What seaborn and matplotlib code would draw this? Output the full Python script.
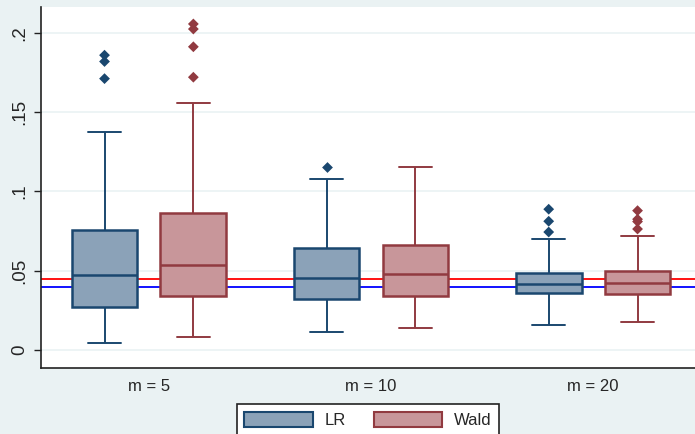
import numpy as np
import pandas as pd
import seaborn as sns
import matplotlib
matplotlib.use("Agg")
import matplotlib.pyplot as plt
from matplotlib.patches import Patch

# ---- data ----
categories = ["m = 5", "m = 10", "m = 20"]
tests = ["LR", "Wald"]

lr_low = [0.0045, 0.0112, 0.0160]
lr_q1 = [0.0272, 0.0320, 0.0358]
lr_med = [0.0472, 0.0454, 0.0416]
lr_q3 = [0.0757, 0.0642, 0.0488]
lr_high = [0.1374, 0.1079, 0.0700]
lr_out = [[0.1860, 0.1820, 0.1712], [0.1152], [0.0888, 0.0812, 0.0744]]

wald_low = [0.0084, 0.0139, 0.0177]
wald_q1 = [0.0341, 0.0343, 0.0354]
wald_med = [0.0537, 0.0482, 0.0425]
wald_q3 = [0.0862, 0.0660, 0.0500]
wald_high = [0.1556, 0.1157, 0.0719]
wald_out = [[0.2057, 0.2025, 0.1913, 0.1721], [], [0.0879, 0.0825, 0.0810, 0.0763]]

ref_red = 0.045
ref_blue = 0.040

ytick_vals = [0, 0.05, 0.1, 0.15, 0.2]
ytick_labels = ["0", ".05", ".1", ".15", ".2"]

# ---- long-form tables: box part (whiskers at min/max) and outside values ----
box_rows, out_rows = [], []
stats = {"LR": (lr_low, lr_q1, lr_med, lr_q3, lr_high, lr_out),
         "Wald": (wald_low, wald_q1, wald_med, wald_q3, wald_high, wald_out)}
for t, (lo, q1, md, q3, hi, out) in stats.items():
    for i, c in enumerate(categories):
        for v in (lo[i], q1[i], md[i], q3[i], hi[i]):
            box_rows += [{"m": c, "test": t, "value": v}] * 20
        for v in out[i]:
            out_rows.append({"m": c, "test": t, "value": v})
df_box = pd.DataFrame(box_rows)
df_out = pd.DataFrame(out_rows)

fills = {"LR": "#8BA2B8", "Wald": "#C8969A"}
edges = {"LR": "#1A476F", "Wald": "#913A40"}

bg = "#EAF2F3"
sns.set_theme(style="white")
plt.rcParams["font.family"] = ["Liberation Sans", "DejaVu Sans"]

fig = plt.figure(figsize=(6.95, 4.34), dpi=100, facecolor=bg)
ax = fig.add_axes([41 / 695, 1 - 368 / 434, 1 - 41 / 695 + 0.01, (368 - 7) / 434])
ax.set_facecolor("white")

for t in tests:
    sns.boxplot(
        data=df_box[df_box.test == t], x="m", y="value", hue="test",
        order=categories, hue_order=tests, dodge=True,
        palette=fills, linecolor=edges[t], linewidth=1.8,
        width=0.8, gap=0.26, whis=(0, 100), saturation=1,
        whiskerprops=dict(linewidth=1.4),
        capprops=dict(linewidth=1.4),
        showfliers=False, legend=False, ax=ax, zorder=3,
    )

sns.stripplot(
    data=df_out, x="m", y="value", hue="test",
    order=categories, hue_order=tests, dodge=True, jitter=False,
    palette=edges, marker="D", size=5.5, linewidth=0,
    legend=False, ax=ax, zorder=4,
)

ax.axhline(ref_red, color="#FF0000", linewidth=1.3, zorder=2)
ax.axhline(ref_blue, color="#0000FF", linewidth=1.3, zorder=2)

ax.set_ylim(-0.0114, 0.2164)
ax.set_xlim(-0.486, 2.49)
ax.set_yticks(ytick_vals)
ax.set_yticklabels(ytick_labels, rotation=90, va="center", fontsize=13.5)
ax.tick_params(axis="y", length=5, width=1, color="#222222", pad=4, left=True)
ax.tick_params(axis="x", length=0, pad=8)
for lab in ax.get_xticklabels():
    lab.set_fontsize(12)
ax.grid(axis="y", color=bg, linewidth=1.2, zorder=0)
ax.set_axisbelow(True)
ax.set_xlabel("")
ax.set_ylabel("")
for s in ["top", "right"]:
    ax.spines[s].set_visible(False)
for s in ["left", "bottom"]:
    ax.spines[s].set_color("#222222")
    ax.spines[s].set_linewidth(1.2)

handles = [Patch(facecolor=fills[t], edgecolor=edges[t], linewidth=1.5) for t in tests]
leg = fig.legend(handles, tests, loc="upper center", ncol=2,
                 bbox_to_anchor=(368 / 695, 1 - 404 / 434),
                 bbox_transform=fig.transFigure, borderaxespad=0,
                 fontsize=12, handlelength=4.1, handleheight=1.05,
                 handletextpad=0.7, columnspacing=1.7, borderpad=0.45,
                 frameon=True, fancybox=False, edgecolor="#222222",
                 framealpha=1)
leg.get_frame().set_linewidth(1.2)

fig.savefig("out.png", dpi=100, facecolor=bg)
